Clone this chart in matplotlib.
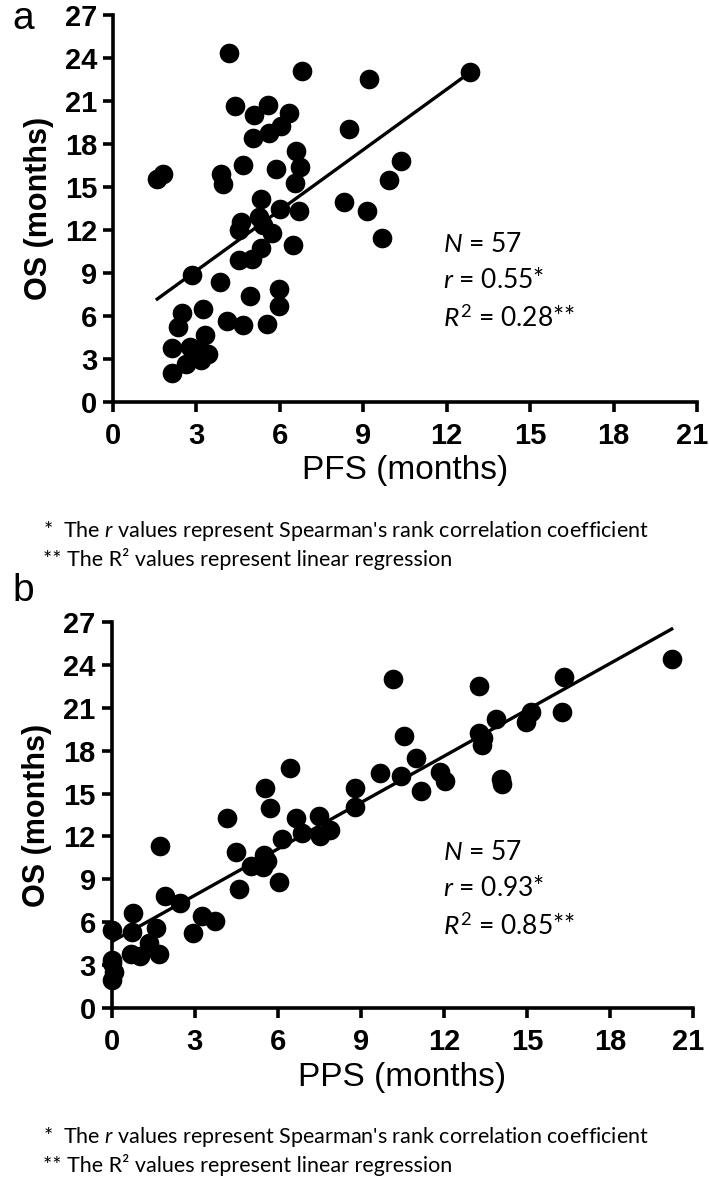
import numpy as np
import matplotlib
matplotlib.use('Agg')
from matplotlib import pyplot as plt
from matplotlib.transforms import ScaledTranslation

plt.rcParams['font.family'] = ['Liberation Sans', 'DejaVu Sans']
plt.rcParams['mathtext.fontset'] = 'custom'
plt.rcParams['mathtext.rm'] = 'Lato'
plt.rcParams['mathtext.it'] = 'Lato:italic'

# panel a: PFS vs OS
pfs = [4.18, 6.79, 9.22, 4.40, 5.59, 5.07, 6.34, 6.04, 5.62, 5.05, 8.50, 6.57,
       6.73, 4.67, 5.85, 10.36, 1.59, 1.79, 3.88, 3.97, 6.55, 9.92, 5.32, 8.29,
       6.02, 6.70, 9.15, 5.26, 4.59, 5.41, 4.52, 5.71, 9.66, 6.47, 5.31, 5.00,
       4.52, 2.85, 3.85, 5.98, 4.93, 5.96, 3.23, 2.48, 2.33, 4.10, 4.69, 5.53,
       3.31, 2.11, 2.77, 3.07, 3.43, 3.17, 2.63, 2.11, 12.84]
os_a = [24.37, 23.1, 22.5, 20.65, 20.7, 20.0, 20.14, 19.25, 18.74, 18.39, 19.02, 17.5,
        16.41, 16.5, 16.23, 16.79, 15.53, 15.9, 15.9, 15.2, 15.29, 15.46, 14.13, 13.95,
        13.46, 13.32, 13.32, 12.88, 12.53, 12.34, 11.99, 11.8, 11.41, 10.92, 10.76, 9.94,
        9.90, 8.85, 8.38, 7.89, 7.38, 6.68, 6.45, 6.17, 5.24, 5.66, 5.36, 5.43,
        4.66, 3.75, 3.80, 3.61, 3.33, 2.91, 2.61, 2.03, 23.04]
fit_a = (1.407, 4.93)  # slope, intercept
stats_a = ['$N$ = 57', '$r$ = 0.55*', '$R^2$ = 0.28**']

# panel b: PPS vs OS
pps = [10.16, 10.55, 10.97, 10.43, 11.15, 9.70, 8.80, 8.80, 6.45, 5.52, 5.73, 4.16,
       6.65, 7.47, 6.87, 7.90, 7.53, 6.15, 1.75, 4.50, 5.51, 5.03, 5.45, 6.03,
       4.58, 1.91, 2.47, 3.25, 3.74, 0.76, 2.95, 0.0, 0.72, 1.59, 1.36, 0.69,
       1.02, 1.71, 0.0, 0.08, 0.0, 20.22, 16.33, 13.28, 16.27, 15.13, 14.95, 13.86,
       13.26, 13.36, 11.87, 12.05, 14.04, 14.1, 0.0, 5.6, 13.4]
os_b = [23.0, 19.03, 17.47, 16.23, 15.2, 16.42, 15.37, 14.05, 16.77, 15.42, 13.98, 13.32,
        13.32, 13.44, 12.23, 12.46, 12.04, 11.81, 11.36, 10.9, 10.71, 9.94, 9.85, 8.80,
        8.34, 7.85, 7.34, 6.47, 6.12, 6.68, 5.24, 5.47, 5.31, 5.63, 4.58, 3.77,
        3.65, 3.77, 3.14, 2.56, 1.98, 24.39, 23.17, 22.52, 20.66, 20.68, 20.03, 20.2,
        19.26, 18.4, 16.53, 15.88, 16.0, 15.67, 3.4, 10.3, 18.9]
fit_b = (1.08, 4.65)
stats_b = ['$N$ = 57', '$r$ = 0.93*', '$R^2$ = 0.85**']

ticks = [0, 3, 6, 9, 12, 15, 18, 21]
yticks = [0, 3, 6, 9, 12, 15, 18, 21, 24, 27]

fig = plt.figure(figsize=(7.09, 11.81), dpi=100)
H = 1181


def panel(rect, x, y, fit, stats, xlabel, letter, letter_y, stat_y, note_y):
    ax = fig.add_axes(rect)
    ax.scatter(x, y, s=200, color='black', zorder=3, clip_on=False, linewidths=0)
    xs = np.array([min(x), max(x)])
    ax.plot(xs, fit[0] * xs + fit[1], color='black', lw=2.4, zorder=2)
    ax.set_xlim(0, 21)
    ax.set_ylim(0, 27)
    ax.set_xticks(ticks)
    ax.set_yticks(yticks)
    for s in ['top', 'right']:
        ax.spines[s].set_visible(False)
    for s in ['left', 'bottom']:
        ax.spines[s].set_linewidth(2.6)
    ax.tick_params(width=2.6, length=7.5, labelsize=21, pad=4)
    ax.tick_params(axis='x', pad=7)
    for lab in ax.get_xticklabels() + ax.get_yticklabels():
        lab.set_fontweight('bold')
    # last label sits a little left, as in the original
    last = ax.get_xticklabels()[-1]
    last.set_transform(last.get_transform() + ScaledTranslation(-0.05, 0, fig.dpi_scale_trans))
    ax.set_xlabel(xlabel, fontsize=24, labelpad=4)
    ax.set_ylabel('OS (months)', fontsize=22, fontweight='bold', labelpad=8)
    for i, t in enumerate(stats):
        fig.text(443 / 709, 1 - (stat_y + 37 * i) / H, t, fontsize=19,
                 family='Lato', va='center', ha='left')
    fig.text(23 / 709, 1 - letter_y / H, letter, fontsize=28, ha='center', va='center')
    fig.text(43 / 709, 1 - note_y / H,
             "*  The $r$ values represent Spearman's rank correlation coefficient",
             fontsize=15.5, family='Lato', va='center')
    fig.text(43 / 709, 1 - (note_y + 28) / H,
             "** The R\u00b2 values represent linear regression",
             fontsize=15.5, family='Lato', va='center')
    return ax


panel([113 / 709, 1 - 401.7 / H, 584 / 709, 386.7 / H], pfs, os_a, fit_a, stats_a,
      'PFS (months)', 'a', 19, 244, 531)
panel([111.7 / 709, 1 - 1008.3 / H, 581.6 / 709, 386.6 / H], pps, os_b, fit_b, stats_b,
      'PPS (months)', 'b', 591, 852, 1137)

fig.savefig('out.png', dpi=100)
